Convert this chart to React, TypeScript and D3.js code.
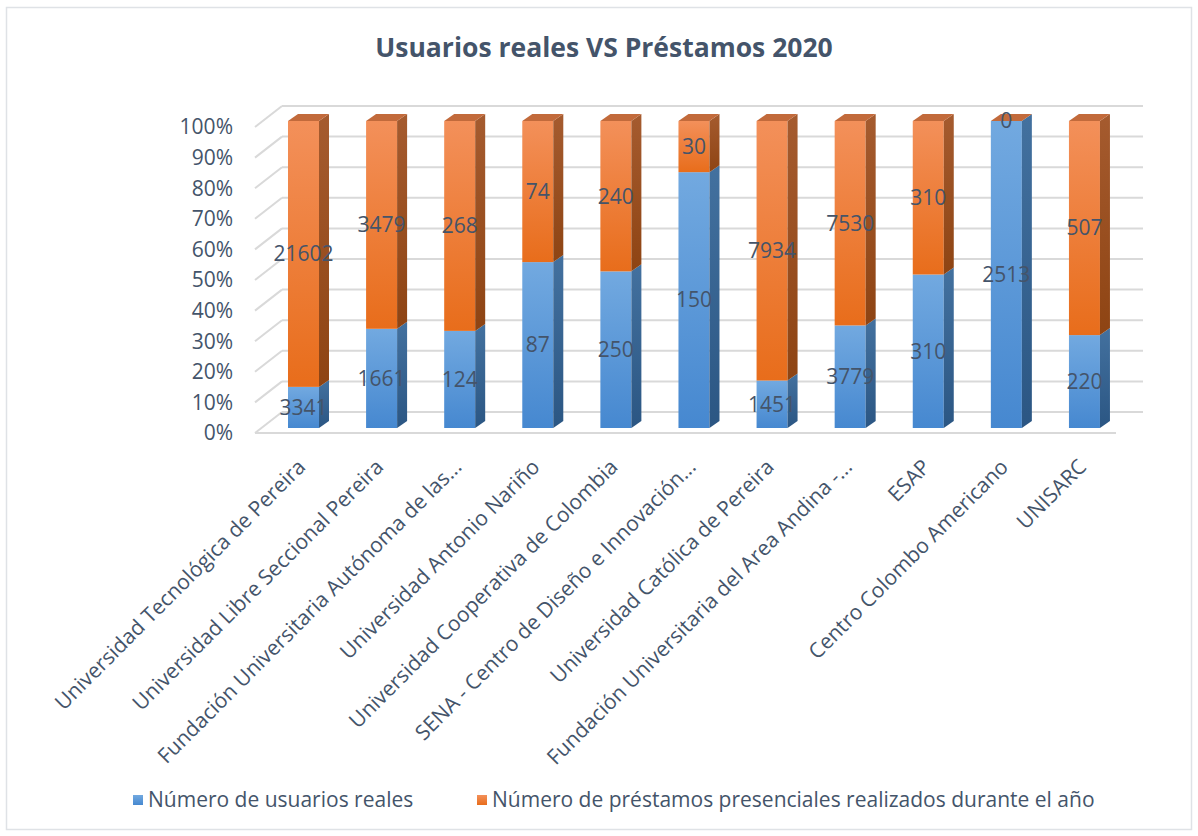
import React from "react";
import * as d3 from "d3";

const categories = [
  "Universidad Tecnológica de Pereira",
  "Universidad Libre Seccional Pereira",
  "Fundación Universitaria Autónoma de las...",
  "Universidad Antonio Nariño",
  "Universidad Cooperativa de Colombia",
  "SENA - Centro de Diseño e Innovación...",
  "Universidad Católica de Pereira",
  "Fundación Universitaria del Area Andina -...",
  "ESAP",
  "Centro Colombo Americano",
  "UNISARC",
];
const usuarios = [3341, 1661, 124, 87, 250, 150, 1451, 3779, 310, 2513, 220];
const prestamos = [21602, 3479, 268, 74, 240, 30, 7934, 7530, 310, 0, 507];
const yTicks = [0, 0.1, 0.2, 0.3, 0.4, 0.5, 0.6, 0.7, 0.8, 0.9, 1];
const seriesNames = ["Número de usuarios reales", "Número de préstamos presenciales realizados durante el año"];

const W = 1198;
const H = 836;
const FONT = "'Open Sans', Lato, sans-serif";
const TEXT = "#44546a";
const GRID = "#d9d9d9";
const FS = 21;

export default function App() {
  const x = d3.scaleBand<string>().domain(categories).range([264.45, 1123.5]).paddingInner(0.603).paddingOuter(0.3015);
  const yBar = d3.scaleLinear().domain([0, 1]).range([428, 121]);
  const yFront = d3.scaleLinear().domain([0, 1]).range([433, 127]);
  const backDx = 27, backDy = -21;
  const floorX0 = 255, floorX1 = 1116;
  const depthDx = 10, depthDy = -7;
  const fmt = d3.format(".0%");

  const stacks = categories.map((c, i) => {
    const total = usuarios[i] + prestamos[i];
    const b = usuarios[i] / total;
    return { c, i, b, total };
  });

  const seg = (x0: number, w: number, yTop: number, yBot: number, front: string, side: string, top: string | null, key: string) => (
    <g key={key}>
      <rect x={x0} y={yTop} width={w} height={Math.max(0, yBot - yTop)} fill={`url(#${front})`} />
      <polygon
        points={`${x0 + w},${yTop} ${x0 + w + depthDx},${yTop + depthDy} ${x0 + w + depthDx},${yBot + depthDy} ${x0 + w},${yBot}`}
        fill={`url(#${side})`}
      />
      {top && (
        <polygon
          points={`${x0},${yTop} ${x0 + depthDx},${yTop + depthDy} ${x0 + w + depthDx},${yTop + depthDy} ${x0 + w},${yTop}`}
          fill={top}
        />
      )}
    </g>
  );

  return (
    <svg width={W} height={H} style={{ position: "absolute", left: 0, top: 0, background: "#fff" }} fontFamily={FONT}>
      <defs>
        <linearGradient id="bF" x1="0" y1="0" x2="0" y2="1">
          <stop offset="0" stopColor="#72a9e0" />
          <stop offset="1" stopColor="#4688d0" />
        </linearGradient>
        <linearGradient id="bS" x1="0" y1="0" x2="0" y2="1">
          <stop offset="0" stopColor="#43719f" />
          <stop offset="1" stopColor="#2b5683" />
        </linearGradient>
        <linearGradient id="oF" x1="0" y1="0" x2="0" y2="1">
          <stop offset="0" stopColor="#f3905a" />
          <stop offset="1" stopColor="#e86d1b" />
        </linearGradient>
        <linearGradient id="oS" x1="0" y1="0" x2="0" y2="1">
          <stop offset="0" stopColor="#a55b2f" />
          <stop offset="1" stopColor="#8e4413" />
        </linearGradient>
        <linearGradient id="legB" x1="0" y1="0" x2="0" y2="1">
          <stop offset="0" stopColor="#72a9e0" />
          <stop offset="1" stopColor="#4688d0" />
        </linearGradient>
      </defs>
      <rect x={6.5} y={7.5} width={1185} height={822} fill="#fff" stroke="#dfe2e6" strokeWidth={1.5} />

      <text x={604} y={57} textAnchor="middle" fontSize={26.5} fontWeight="bold" fill={TEXT}>
        Usuarios reales VS Préstamos 2020
      </text>

      {/* gridlines */}
      {yTicks.map((t) => (
        <g key={t} stroke={GRID} strokeWidth={2} fill="none">
          <line x1={floorX0 + backDx} x2={floorX1 + backDx} y1={yFront(t) + backDy} y2={yFront(t) + backDy} />
          <line x1={floorX0} y1={yFront(t)} x2={floorX0 + backDx} y2={yFront(t) + backDy} />
        </g>
      ))}
      <line x1={floorX0} x2={floorX1} y1={yFront(0)} y2={yFront(0)} stroke={GRID} strokeWidth={2} />

      {/* y labels */}
      {yTicks.map((t) => (
        <text key={t} x={233} y={yFront(t)} dy="0.35em" textAnchor="end" fontSize={FS} fill={TEXT}>
          {fmt(t)}
        </text>
      ))}

      {/* bars */}
      {stacks.map((s) => {
        const x0 = x(s.c)!;
        const w = x.bandwidth();
        return (
          <g key={s.c}>
            {seg(x0, w, yBar(s.b), yBar(0), "bF", "bS", null, "b")}
            {seg(x0, w, yBar(1), yBar(s.b), "oF", "oS", "#c26a3b", "o")}
          </g>
        );
      })}

      {/* data labels */}
      {stacks.map((s) => {
        const cx = x(s.c)! + x.bandwidth() / 2;
        return (
          <g key={s.c} fontSize={FS} fill={TEXT} textAnchor="middle">
            <text x={cx} y={(yBar(0) + yBar(s.b)) / 2} dy="0.35em">{usuarios[s.i]}</text>
            <text x={cx} y={(yBar(s.b) + yBar(1)) / 2} dy="0.35em">{prestamos[s.i]}</text>
          </g>
        );
      })}

      {/* x labels */}
      {categories.map((c) => {
        const cx = x(c)! + x.bandwidth() / 2;
        return (
          <text key={c} transform={`translate(${cx - 2},${463}) rotate(-45)`} textAnchor="end" dy="0.35em" fontSize={FS} fill={TEXT}>
            {c}
          </text>
        );
      })}

      {/* legend */}
      <rect x={133} y={795} width={10} height={10} fill="url(#legB)" />
      <text x={148} y={800} dy="0.35em" fontSize={FS} fill={TEXT}>{seriesNames[0]}</text>
      <rect x={477} y={795} width={10} height={10} fill="url(#oF)" />
      <text x={492} y={800} dy="0.35em" fontSize={FS} fill={TEXT}>{seriesNames[1]}</text>
    </svg>
  );
}
